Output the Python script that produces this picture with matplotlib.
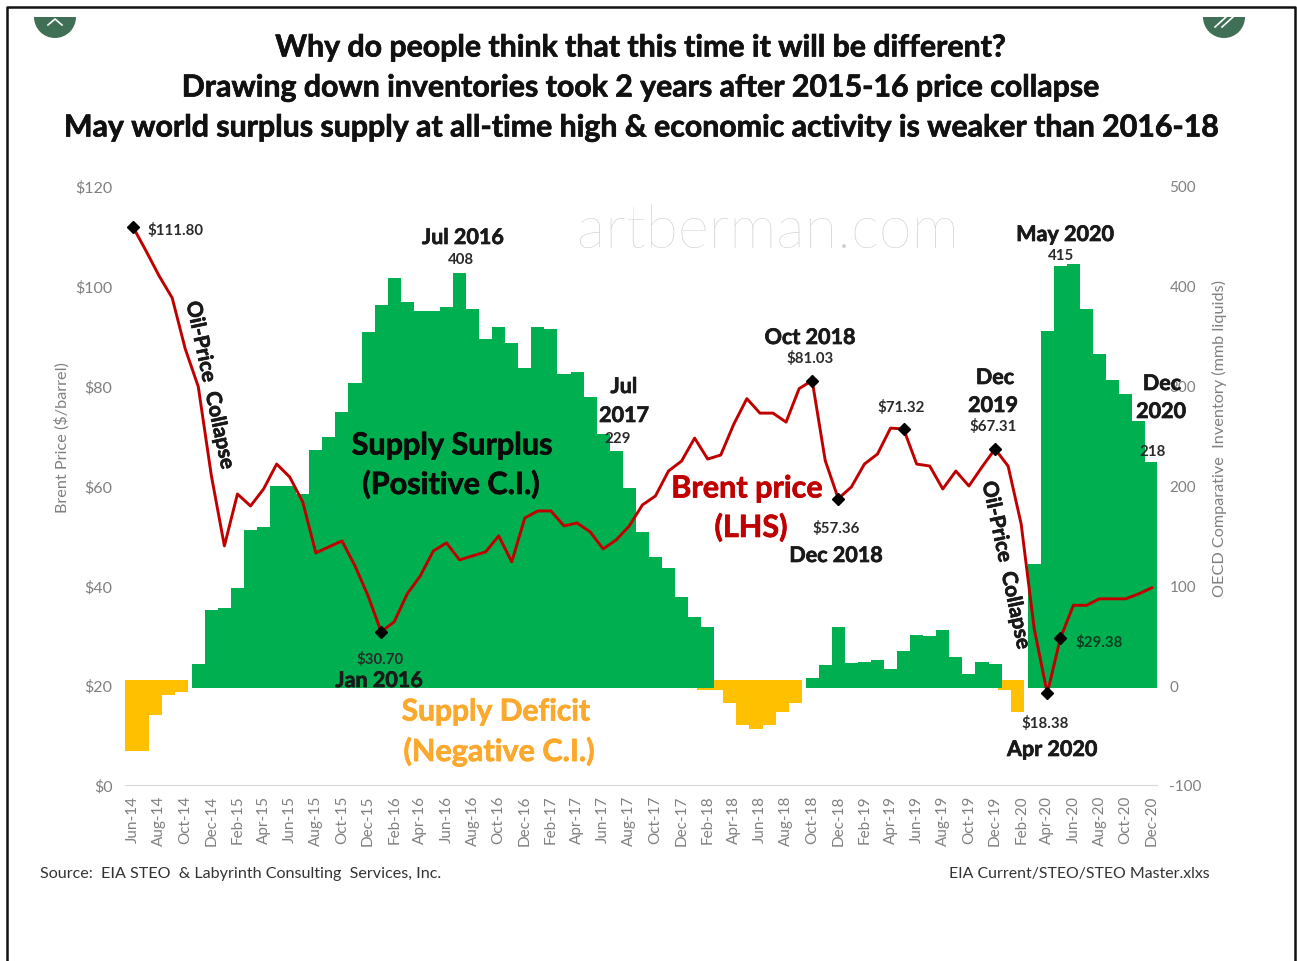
import matplotlib
matplotlib.use('Agg')
import matplotlib.pyplot as plt
import matplotlib.patheffects as pe
from matplotlib.patches import Wedge
import numpy as np

plt.rcParams['font.family'] = ['Lato', 'DejaVu Sans']
plt.rcParams['axes.unicode_minus'] = False

years = [14, 15, 16, 17, 18, 19, 20]
month_names = ['Jan', 'Feb', 'Mar', 'Apr', 'May', 'Jun', 'Jul', 'Aug', 'Sep', 'Oct', 'Nov', 'Dec']
months = [f'{m}-{y}' for y in years for m in month_names][5:]

# Brent price, $/barrel
price = [111.8, 107, 102, 97.6, 87.4, 79.8, 62, 47.9, 58.3, 55.9, 59.3, 64.3, 61.7, 56.7, 46.5, 47.7,
         48.9, 43.9, 37.9, 30.7, 32.7, 38.3, 41.9, 46.9, 48.5, 45.1, 45.9, 46.7, 49.9, 44.7, 53.5, 54.9,
         54.9, 51.9, 52.5, 50.7, 47.3, 49.1, 51.9, 56.1, 57.9, 62.9, 64.9, 69.5, 65.3, 66.1, 72.3, 77.4,
         74.5, 74.5, 72.7, 79.4, 81.03, 65, 57.36, 59.7, 64.3, 66.3, 71.5, 71.32, 64.3, 63.9, 59.3, 62.9,
         59.9, 63.7, 67.31, 63.9, 52.3, 31.3, 18.38, 29.38, 36, 36, 37.3, 37.3, 37.3, 38.3, 39.5]

# OECD comparative inventory, mmb
surplus = [0, 0, 0, 0, 0, 21, 75, 77, 97, 155, 158, 200, 199, 191, 236, 249, 274, 303, 354, 381,
           408, 384, 375, 375, 379, 413, 377, 347, 359, 343, 318, 359, 357, 312, 314, 289, 252, 235, 197, 153,
           128, 117, 88, 68, 58, 0, 0, 0, 0, 0, 0, 0, 7, 20, 58, 22, 23, 25, 16, 34,
           50, 49, 55, 28, 11, 23, 21, 0, 0, 121, 355, 420, 422, 377, 332, 306, 292, 265, 224]
deficit = [-66, -66, -30, -10, -7, 0, 0, 0, 0, 0, 0, 0, 0, 0, 0, 0, 0, 0, 0, 0,
           0, 0, 0, 0, 0, 0, 0, 0, 0, 0, 0, 0, 0, 0, 0, 0, 0, 0, 0, 0,
           0, 0, 0, 0, -5, -5, -18, -40, -44, -40, -27, -18, 0, 0, 0, 0, 0, 0, 0, 0,
           0, 0, 0, 0, 0, 0, 0, -5, -27, 0, 0, 0, 0, 0, 0, 0, 0, 0, 0]

marked = [0, 19, 52, 54, 59, 66, 70, 71]
left_ticks = [0, 20, 40, 60, 80, 100, 120]
right_ticks = [-100, 0, 100, 200, 300, 400, 500]

W, H = 1297, 962
GREEN = '#00AF50'
AMBER = '#FFC000'
RED = '#C00000'
GREY = '#808080'

fig = plt.figure(figsize=(W / 100, H / 100), dpi=100)
ax = fig.add_axes([125 / W, 1 - 786 / H, (1157 - 125) / W, (786 - 187) / H])
ax2 = ax.twinx()
x = np.arange(len(months))

# the bars were pasted a little off the zero line in the original, amber also sits a bit left
ax2.bar(x - 0.3, np.where(np.array(deficit) < 0, np.array(deficit) - 5, 0), bottom=5, width=1.0, color=AMBER, linewidth=0)
ax2.bar(x, np.where(np.array(surplus) > 0, np.array(surplus) + 3, 0), bottom=-3, width=1.0, color=GREEN, linewidth=0)
ax2.set_ylim(-100, 500)
ax2.set_yticks(right_ticks)
ax2.tick_params(axis='y', length=0, labelsize=11, labelcolor=GREY, pad=9)

ax.set_zorder(ax2.get_zorder() + 1)
ax.patch.set_visible(False)
ax.plot(x, price, color=RED, lw=2.1)
ax.plot(x[marked], np.array(price)[marked], 'D', color='black', ms=6)
ax.set_ylim(0, 120)
ax.set_xlim(-0.61, 78.4)
ax.set_yticks(left_ticks)
ax.set_yticklabels([f'${v}' for v in left_ticks])
ax.tick_params(axis='y', length=0, labelsize=11.5, labelcolor=GREY, pad=9)
ax.set_xticks(x[::2])
ax.set_xticklabels(months[::2], rotation=90, fontsize=11, color=GREY)
ax.tick_params(axis='x', length=0, pad=7)

for a in (ax, ax2):
    for s in a.spines.values():
        s.set_visible(False)
ax.spines['bottom'].set_visible(True)
ax.spines['bottom'].set_color('#d9d9d9')

# everything else sits on a pixel overlay
ov = fig.add_axes([0, 0, 1, 1], zorder=10)
ov.set_xlim(0, W)
ov.set_ylim(H, 0)
ov.axis('off')
ov.plot([7, 7, 1295, 1295], [H, 7.5, 7.5, H], color='#111111', lw=1.8)


def label(px, py, s, size=10.8, weight='bold', color='#2a2a2a', rot=0, ha='center'):
    t = ov.text(px, py + 1.5, s, fontsize=size, fontweight=weight, color=color, rotation=rot,
                ha=ha, va='center', rotation_mode='anchor')
    if weight == 'bold' and size > 12:
        t.set_path_effects([pe.withStroke(linewidth=0.5, foreground=color)])


for cx in (55, 1224):
    ov.add_patch(Wedge((cx, 18), 21, 0, 180, color='#3F6F55', lw=0))
ov.plot([48, 55, 62], [26, 20, 26], color='white', lw=1.2)
ov.plot([1215, 1226], [28, 18], color='white', lw=1.2)
ov.plot([1222, 1233], [28, 18], color='white', lw=1.2)

label(641, 47, 'Why do people think that this time it will be different?', 21.8, color='#111111')
label(641, 87, 'Drawing down inventories took 2 years after 2015-16 price collapse', 21.8, color='#111111')
label(642, 127, 'May world surplus supply at all-time high & economic activity is weaker than 2016-18', 21.8, color='#111111')

label(768, 230, 'artberman.com', 43, weight='light', color='#cfcfcf')

label(62, 436, 'Brent Price ($/barrel)', 11.7, weight='normal', color=GREY, rot=90)
label(1219, 437, 'OECD Comparative  Inventory (mmb liquids)', 11.7, weight='normal', color=GREY, rot=90)

label(147, 229, '$111.80', ha='left')
label(463, 237, 'Jul 2016', 15.5, color='#1a1a1a')
label(461, 259, '408')
label(210, 385, 'Oil-Price  Collapse', 15, color='#1a1a1a', rot=-78)
label(452, 445, 'Supply Surplus', 22, color='#0a0a0a')
label(451, 484, '(Positive C.I.)', 22, color='#0a0a0a')
label(380, 658, '$30.70')
label(379, 680, 'Jan 2016', 15.5, color='#1a1a1a')
label(496, 711, 'Supply Deficit', 21.6, color='#FBA92D')
label(499, 751, '(Negative C.I.)', 22, color='#FBA92D')
label(624, 386, 'Jul', 15.5, color='#1a1a1a')
label(624, 415, '2017', 15.5, color='#1a1a1a')
label(618, 438, '229')
label(747, 488, 'Brent price', 22, color=RED)
label(751, 527, '(LHS)', 22, color=RED)
label(810, 337, 'Oct 2018', 15.5, color='#1a1a1a')
label(810, 357, '$81.03')
label(836, 527, '$57.36')
label(836, 555, 'Dec 2018', 15.5, color='#1a1a1a')
label(901, 406, '$71.32')
label(995, 377, 'Dec', 15.5, color='#1a1a1a')
label(993, 405, '2019', 15.5, color='#1a1a1a')
label(993, 425, '$67.31')
label(1006, 565, 'Oil-Price  Collapse', 15, color='#1a1a1a', rot=-78)
label(1065, 234, 'May 2020', 15.5, color='#1a1a1a')
label(1061, 254, '415')
label(1162, 383, 'Dec', 15.5, color='#1a1a1a')
label(1161, 411, '2020', 15.5, color='#1a1a1a')
label(1153, 451, '218')
label(1045, 722, '$18.38')
label(1052, 749, 'Apr 2020', 15.5, color='#1a1a1a')
label(1099, 641, '$29.38', color='#0b3d1f')

label(40, 873, 'Source:  EIA STEO  & Labyrinth Consulting  Services, Inc.', 11.6, weight='normal', color='#333333', ha='left')
label(949, 873, 'EIA Current/STEO/STEO Master.xlxs', 11.4, weight='normal', color='#333333', ha='left')

fig.savefig('out.png', dpi=100)
